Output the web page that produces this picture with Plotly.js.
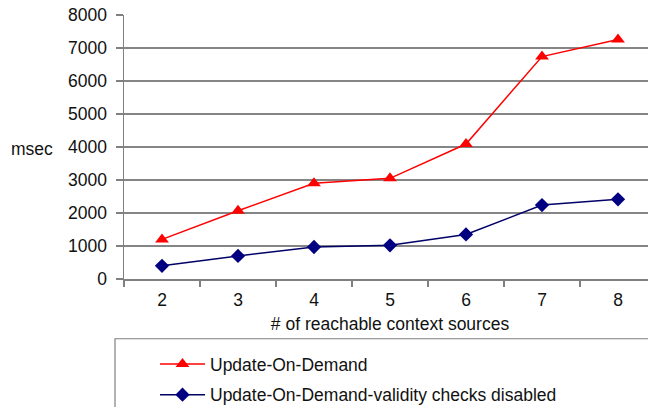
<!DOCTYPE html>
<html>
<head>
<meta charset="utf-8">
<script src="https://cdn.plot.ly/plotly-3.0.1.min.js"></script>
<style>
html,body{margin:0;padding:0;width:648px;height:407px;overflow:hidden;background:#fff;}
#chart{width:664px;height:420px;}
</style>
</head>
<body>
<div id="chart"></div>
<script>
var categories = ['2','3','4','5','6','7','8'];
var updateOnDemand = [1200, 2070, 2900, 3050, 4090, 6740, 7260];
var validityDisabled = [400, 700, 970, 1020, 1350, 2240, 2415];
var yTicks = [0,1000,2000,3000,4000,5000,6000,7000,8000];

var W = 664, H = 420;
var PW = W - 124 - 8;
var TOP = 15, BOT = 280, PH = BOT - TOP;
var fontFam = '"Liberation Sans", Arial, Helvetica, sans-serif';
var FS = 17.5;

var traces = [
  {x: categories, y: updateOnDemand, type: 'scatter', mode: 'lines+markers',
   name: 'Update-On-Demand', legendgroup: 'a',
   line: {color: '#ff0000', width: 1.5},
   marker: {symbol: 'triangle-up', size: 12, color: '#ff0000'}},
  {x: categories, y: validityDisabled, type: 'scatter', mode: 'lines+markers',
   name: 'Update-On-Demand-validity checks disabled', legendgroup: 'b',
   line: {color: '#000066', width: 1.5},
   marker: {symbol: 'diamond', size: 11, color: '#000080'}}
];

var layout = {
  width: W, height: H,
  margin: {l: 124, r: 8, t: TOP, b: H - BOT},
  paper_bgcolor: '#fff', plot_bgcolor: '#fff',
  font: {family: fontFam, size: FS, color: '#111'},
  showlegend: true,
  xaxis: {
    type: 'category', tickson: 'boundaries',
    ticks: 'outside', ticklen: 6, tickcolor: '#808080', tickwidth: 1.2,
    showline: true, linecolor: '#808080', linewidth: 1.5,
    showgrid: false, zeroline: false,
    range: [-0.5, 6.5], ticklabelstandoff: 4,
    title: {text: '# of reachable context sources', standoff: 9, font: {size: FS}},
    tickfont: {size: FS}
  },
  yaxis: {
    range: [0, 8000], tickvals: yTicks,
    ticks: 'outside', ticklen: 7, tickcolor: '#808080', tickwidth: 1.2,
    showline: true, linecolor: '#808080', linewidth: 1.5,
    showgrid: true, gridcolor: '#858585', gridwidth: 1.5,
    zeroline: false, tickfont: {size: FS}, ticklabelstandoff: 5
  },
  legend: {
    x: (155 - 124) / PW, xanchor: 'left',
    y: (BOT - 346) / PH, yanchor: 'top',
    bgcolor: 'rgba(0,0,0,0)', borderwidth: 0,
    traceorder: 'grouped', tracegroupgap: 5,
    itemwidth: 45, font: {size: FS}
  },
  shapes: [
    {type: 'rect', xref: 'paper', yref: 'paper',
     x0: (115 - 124) / PW, x1: (700 - 124) / PW,
     y0: (BOT - 340) / PH, y1: (BOT - 440) / PH,
     line: {color: '#808080', width: 1.2}, fillcolor: 'rgba(0,0,0,0)', layer: 'below'}
  ],
  annotations: [
    {text: 'msec', xref: 'paper', yref: 'paper',
     x: (9 - 124) / PW, xanchor: 'left',
     y: (BOT - 150) / PH, yanchor: 'middle',
     showarrow: false, font: {size: FS}}
  ]
};

Plotly.newPlot('chart', traces, layout, {displayModeBar: false, staticPlot: true});
</script>
</body>
</html>
